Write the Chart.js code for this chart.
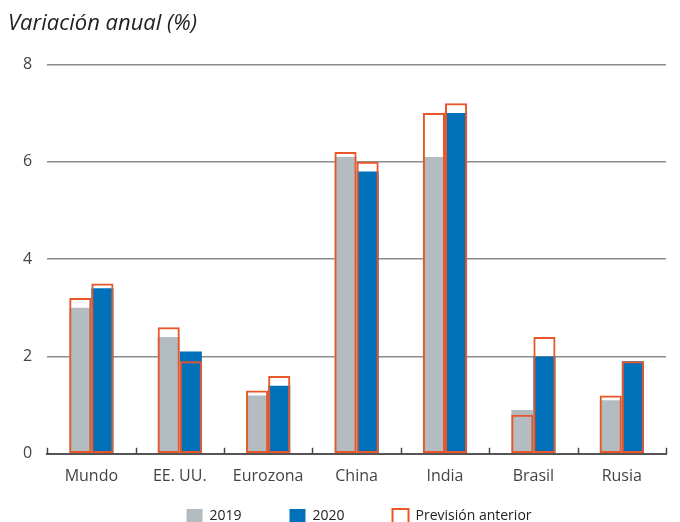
<!DOCTYPE html>
<html>
<head>
<meta charset="utf-8">
<script src="https://cdn.jsdelivr.net/npm/chart.js@4"></script>
<style>
  body { margin: 0; background: #fff; }
  #wrap { width: 680px; height: 522px; }
</style>
</head>
<body>
<div id="wrap"><canvas id="c" width="680" height="522"></canvas></div>
<script>
const categories = ["Mundo", "EE. UU.", "Eurozona", "China", "India", "Brasil", "Rusia"];
const values2019 = [3.0, 2.4, 1.2, 6.1, 6.1, 0.9, 1.1];
const values2020 = [3.4, 2.1, 1.4, 5.8, 7.0, 2.0, 1.9];
// previsión anterior (outline bars)
const prev2019 = [3.2, 2.6, 1.3, 6.2, 7.0, 0.8, 1.2];
const prev2020 = [3.5, 1.9, 1.6, 6.0, 7.2, 2.4, 1.9];
const yTicks = [0, 2, 4, 6, 8];

const GRAY = "#b3bdc1";
const BLUE = "#0070b8";
const ORANGE = "#e8562a";

const barOpts = { categoryPercentage: 0.5, barPercentage: 1.0 };

// small category separator ticks that point up from the axis line
const innerTicks = {
  id: "innerTicks",
  afterDraw(chart) {
    const x = chart.scales.x;
    const ctx = chart.ctx;
    const bottom = chart.chartArea.bottom;
    const step = x.width / categories.length;
    ctx.save();
    ctx.strokeStyle = "#444";
    ctx.lineWidth = 1.5;
    for (let i = 0; i <= categories.length; i++) {
      const px = Math.round(x.left + i * step) + 0.5;
      ctx.beginPath();
      ctx.moveTo(px, bottom);
      ctx.lineTo(px, bottom - 6);
      ctx.stroke();
    }
    ctx.restore();
  }
};

// legend keeps wide gaps between items but only a short row height
const legendShift = {
  id: "legendShift",
  afterLayout(chart) {
    const lg = chart.legend;
    lg.top -= 38;
    lg.left += 22; lg.right += 22;
  }
};

new Chart(document.getElementById("c"), {
  type: "bar",
  data: {
    labels: categories,
    datasets: [
      { label: "2019", data: values2019, backgroundColor: GRAY, stack: "a", order: 2, ...barOpts },
      { label: "2020", data: values2020, backgroundColor: BLUE, stack: "b", order: 2, ...barOpts },
      { label: "Previsión anterior", data: prev2019, backgroundColor: "rgba(255,255,255,0)",
        borderColor: ORANGE, borderWidth: 2, borderSkipped: false, stack: "a", order: 1, ...barOpts },
      { label: "prev2020", data: prev2020, backgroundColor: "rgba(255,255,255,0)",
        borderColor: ORANGE, borderWidth: 2, borderSkipped: false, stack: "b", order: 1, ...barOpts }
    ]
  },
  plugins: [innerTicks, legendShift],
  options: {
    responsive: false,
    animation: false,
    layout: { padding: { left: 8, right: 14, top: 0, bottom: 0 } },
    plugins: {
      tooltip: { enabled: false },
      title: {
        display: true,
        text: "Variación anual (%)",
        align: "start",
        color: "#222",
        font: { family: "Open Sans", size: 22, style: "italic", weight: "normal" },
        padding: { top: 11, bottom: 27 }
      },
      legend: {
        position: "bottom",
        maxHeight: 23,
        labels: {
          color: "#222",
          font: { family: "Open Sans", size: 14 },
          boxWidth: 16,
          boxHeight: 14,
          padding: 48,
          filter: item => item.datasetIndex !== 3,
          sort: (a, b) => a.datasetIndex - b.datasetIndex
        }
      }
    },
    scales: {
      x: {
        offset: true,
        grid: { display: false, drawTicks: false },
        border: { display: true, color: "#555", width: 2 },
        ticks: { color: "#444", font: { family: "Open Sans", size: 16 }, padding: 13 }
      },
      y: {
        min: 0,
        max: 8,
        stacked: false,
        afterBuildTicks: axis => { axis.ticks = yTicks.map(v => ({ value: v })); },
        grid: { color: "#8c8c8c", lineWidth: 1.5, drawTicks: false },
        border: { display: false },
        ticks: { color: "#444", font: { family: "Open Sans", size: 16 }, padding: 15 }
      }
    }
  }
});
</script>
</body>
</html>
